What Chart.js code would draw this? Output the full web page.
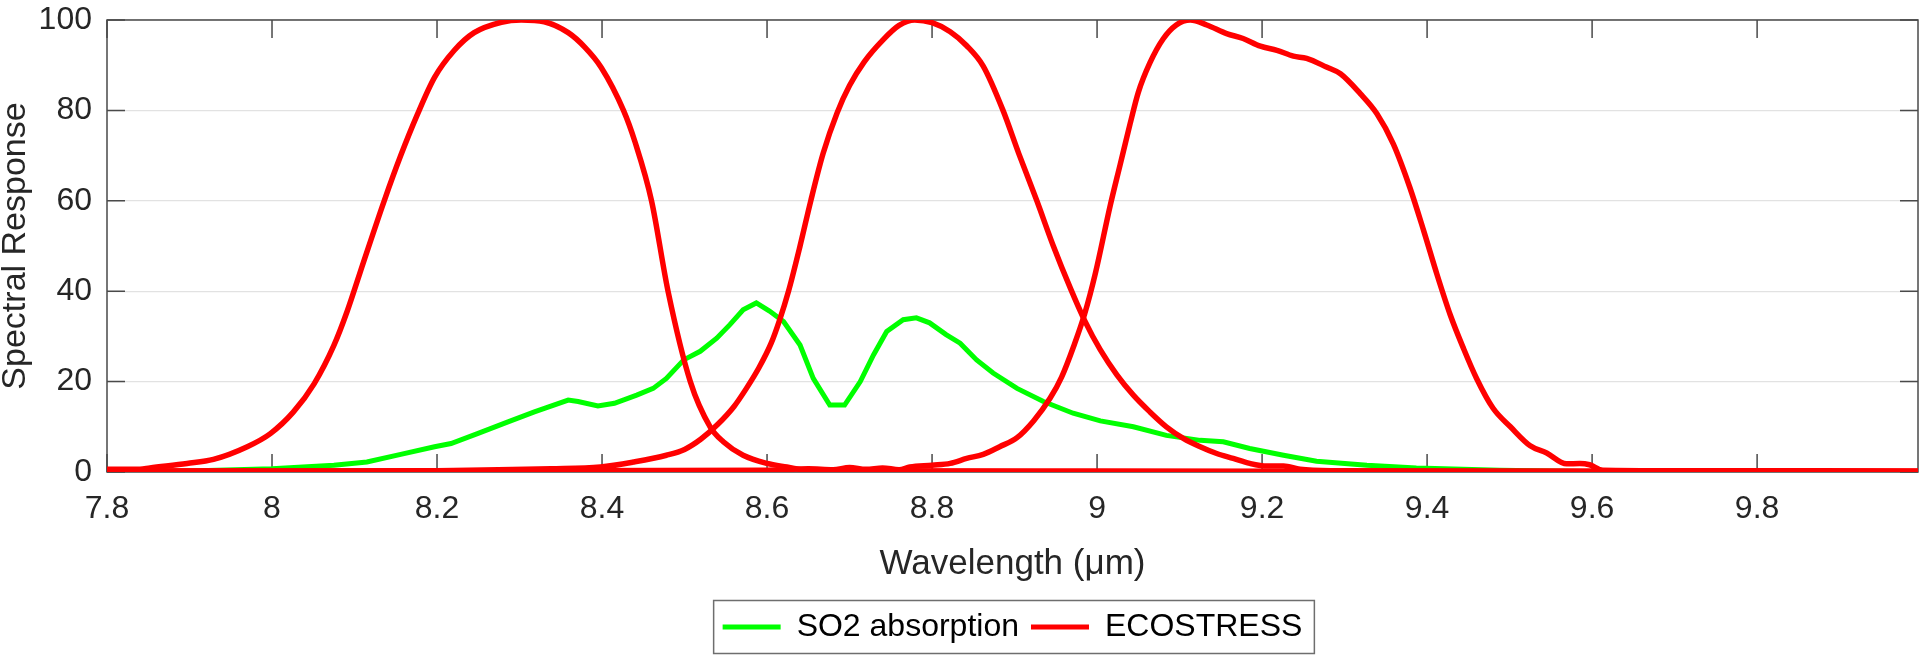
<!DOCTYPE html>
<html>
<head>
<meta charset="utf-8">
<script src="https://cdn.jsdelivr.net/npm/chart.js@4.4.1/dist/chart.umd.min.js"></script>
<style>
  html, body { margin: 0; padding: 0; background: #fff; }
</style>
</head>
<body>
<canvas id="chart" width="1920" height="656"></canvas>
<script>
// ---------------- data ----------------
const xTicks = [7.8, 8.0, 8.2, 8.4, 8.6, 8.8, 9.0, 9.2, 9.4, 9.6, 9.8];
const yTicks = [0, 20, 40, 60, 80, 100];

// SO2 absorption
const so2Wl   = [7.8, 7.9, 8.0, 8.075, 8.115, 8.156, 8.197, 8.217, 8.249, 8.286, 8.318, 8.359, 8.371, 8.395, 8.415,
                 8.442, 8.462, 8.478, 8.499, 8.519, 8.539, 8.555, 8.571, 8.587, 8.603, 8.62, 8.64, 8.656, 8.676, 8.694,
                 8.713, 8.729, 8.745, 8.765, 8.781, 8.797, 8.817, 8.834, 8.854, 8.874, 8.903, 8.935, 8.971, 9.004,
                 9.044, 9.084, 9.125, 9.153, 9.185, 9.226, 9.266, 9.327, 9.387, 9.488, 9.59, 9.8, 10.0];
const so2Resp = [0, 0.2, 0.7, 1.5, 2.2, 3.9, 5.6, 6.3, 8.5, 11.1, 13.3, 15.9, 15.6, 14.6, 15.2,
                 17, 18.5, 20.7, 24.8, 26.7, 29.6, 32.6, 35.9, 37.4, 35.6, 33.3, 28.1, 20.7, 14.8, 14.8,
                 20, 25.9, 31.1, 33.7, 34.1, 33, 30.4, 28.5, 24.8, 21.9, 18.5, 15.6, 13, 11.3,
                 10, 8.1, 7, 6.7, 5.2, 3.7, 2.4, 1.5, 0.9, 0.4, 0.1, 0, 0];

// ECOSTRESS band 1 (~8.3 um)
const band1Wl   = [7.8, 7.84, 7.852, 7.897, 7.929, 7.97, 7.998, 8.026, 8.051, 8.075, 8.091, 8.111, 8.136, 8.156,
                   8.176, 8.197, 8.221, 8.245, 8.278, 8.302, 8.33, 8.359, 8.379, 8.399, 8.426, 8.44, 8.46, 8.48,
                   8.507, 8.531, 8.547, 8.571, 8.6, 8.624, 8.648, 8.7, 9.0, 9.5, 10.0];
const band1Resp = [0.6, 0.6, 0.9, 1.9, 2.8, 5.6, 8.5, 13.3, 19.5, 28, 35.5, 46.5, 60, 70,
                   79, 87.3, 93.3, 97.2, 99.5, 100, 99.6, 97.2, 94, 89.5, 80, 73, 60, 40,
                   20, 10, 6.7, 3.7, 1.9, 1.1, 0.4, 0.3, 0.2, 0.1, 0.1];

// ECOSTRESS band 2 (~8.78 um)
const band2Wl   = [7.8, 8.0, 8.2, 8.338, 8.398, 8.438, 8.478, 8.5, 8.52, 8.54, 8.56, 8.575, 8.59, 8.605, 8.615,
                   8.626, 8.64, 8.653, 8.668, 8.685, 8.7, 8.718, 8.74, 8.76, 8.779, 8.8, 8.822, 8.842, 8.862,
                   8.886, 8.905, 8.927, 8.947, 8.968, 8.985, 9.004, 9.024, 9.044, 9.064, 9.084, 9.105, 9.125,
                   9.145, 9.165, 9.185, 9.206, 9.226, 9.246, 9.286, 9.5, 10.0];
const band2Resp = [0.2, 0.2, 0.3, 0.7, 1.1, 2.2, 3.7, 5.0, 7.3, 10.5, 14.5, 18.5, 23, 28.5, 33.5,
                   40, 50, 60, 70.5, 79.5, 85.5, 90.8, 95.5, 98.8, 100, 99.4, 97.4, 94.3, 89.8,
                   80, 70.5, 60, 50, 40.5, 33.5, 27, 21.5, 17, 13.3, 10, 7.4, 5.6,
                   4.1, 3, 1.9, 1.3, 1.3, 0.6, 0.3, 0.2, 0.1];

// ECOSTRESS band 3 (~9.12 um)
const band3Wl   = [7.8, 8.3, 8.6, 8.65, 8.68, 8.7, 8.72, 8.74, 8.76, 8.773, 8.8, 8.822, 8.842, 8.862, 8.882,
                   8.903, 8.923, 8.943, 8.957, 8.972, 8.985, 8.998, 9.016, 9.028, 9.04, 9.05, 9.064, 9.08,
                   9.096, 9.113, 9.133, 9.157, 9.177, 9.198, 9.218, 9.238, 9.254, 9.278, 9.295, 9.319, 9.339,
                   9.359, 9.379, 9.396, 9.412, 9.428, 9.444, 9.46, 9.48, 9.501, 9.525, 9.545, 9.569, 9.585,
                   9.597, 9.613, 9.7, 10.0];
const band3Resp = [0.2, 0.3, 0.4, 0.7, 0.5, 1.0, 0.6, 0.9, 0.5, 1.1, 1.5, 1.9, 3, 3.9, 5.6,
                   7.6, 11.3, 16.3, 21, 28, 35, 44, 59, 68, 77, 84, 90.5, 95.8,
                   98.9, 100, 98.9, 97, 95.9, 94.2, 93.3, 92, 91.5, 89.6, 88.1, 83.7, 79.3,
                   72.6, 63, 53.3, 43.7, 34.8, 27.4, 20.7, 14.1, 10, 5.8, 4.2, 1.8, 1.9,
                   1.6, 0.4, 0.3, 0.2];

const GREEN = '#00ff00';
const RED = '#ff0000';
const AXIS_TEXT = '#262626';

function toPoints(xs, ys) {
    return xs.map((x, i) => ({x: x, y: ys[i]}));
}

Chart.defaults.font.family = '"Liberation Sans", Arial, Helvetica, sans-serif';
Chart.defaults.color = AXIS_TEXT;

// box around the axes plus inward ticks on all four sides (matlab look)
const axesFrame = {
    id: 'axesFrame',
    beforeDatasetsDraw(chart) {
        const {ctx, chartArea: a, scales} = chart;
        const tl = 18;
        ctx.save();
        ctx.strokeStyle = '#4a4a4a';
        ctx.lineWidth = 1.5;
        ctx.strokeRect(a.left, a.top, a.right - a.left, a.bottom - a.top);
        ctx.beginPath();
        xTicks.forEach(v => {
            let px = scales.x.getPixelForValue(v);
            ctx.moveTo(px, a.bottom); ctx.lineTo(px, a.bottom - tl);
            ctx.moveTo(px, a.top); ctx.lineTo(px, a.top + tl);
        });
        yTicks.forEach(v => {
            let py = scales.y.getPixelForValue(v);
            ctx.moveTo(a.left, py); ctx.lineTo(a.left + tl, py);
            ctx.moveTo(a.right, py); ctx.lineTo(a.right - tl, py);
        });
        ctx.stroke();
        ctx.restore();
    }
};

// centre the legend under the plot area instead of the whole canvas
const legendUnderPlot = {
    id: 'legendUnderPlot',
    afterLayout(chart) {
        const lg = chart.legend;
        lg.left = chart.chartArea.left;
        lg.right = chart.chartArea.right;
        lg.width = lg.right - lg.left;
    }
};

// thin box around the legend entries
const legendFrame = {
    id: 'legendFrame',
    afterDraw(chart) {
        const boxes = chart.legend.legendHitBoxes;
        if (!boxes || !boxes.length) return;
        const left = Math.min(...boxes.map(b => b.left)) - 9;
        const right = Math.max(...boxes.map(b => b.left + b.width)) + 12;
        const mid = boxes[0].top + boxes[0].height / 2;
        const ctx = chart.ctx;
        ctx.save();
        ctx.strokeStyle = '#6e6e6e';
        ctx.lineWidth = 1.5;
        ctx.strokeRect(left, mid - 26.5, right - left, 53);
        ctx.restore();
    }
};

const redLine = {
    borderColor: RED,
    backgroundColor: RED,
    borderWidth: 5.5,
    pointRadius: 0,
    cubicInterpolationMode: 'monotone',
    order: 0
};

new Chart(document.getElementById('chart'), {
    type: 'line',
    data: {
        datasets: [
            Object.assign({label: 'ECOSTRESS', data: toPoints(band1Wl, band1Resp)}, redLine),
            Object.assign({label: 'ECOSTRESS b2', data: toPoints(band2Wl, band2Resp)}, redLine),
            Object.assign({label: 'ECOSTRESS b3', data: toPoints(band3Wl, band3Resp)}, redLine),
            {
                label: 'SO2 absorption',
                data: toPoints(so2Wl, so2Resp),
                borderColor: GREEN,
                backgroundColor: GREEN,
                borderWidth: 5,
                pointRadius: 0,
                tension: 0,
                order: 1
            }
        ]
    },
    options: {
        responsive: false,
        animation: false,
        devicePixelRatio: 1,
        layout: { padding: { top: 20, right: 2, left: 0, bottom: 3 } },
        scales: {
            x: {
                type: 'linear',
                min: 7.8,
                max: 9.995,
                afterBuildTicks: s => { s.ticks = xTicks.map(v => ({value: v})); },
                afterFit: s => { s.height = 127; s.paddingLeft = 0; s.paddingRight = 0; },
                grid: { display: false, drawTicks: false },
                border: { display: false },
                ticks: {
                    padding: 18,
                    font: { size: 32 },
                    color: AXIS_TEXT,
                    maxRotation: 0,
                    callback: v => String(Math.round(v * 10) / 10)
                },
                title: {
                    display: true,
                    text: 'Wavelength (\u03bcm)',
                    font: { size: 35 },
                    color: AXIS_TEXT,
                    padding: { top: 0, bottom: 14 }
                }
            },
            y: {
                min: 0,
                max: 100,
                afterBuildTicks: s => { s.ticks = yTicks.map(v => ({value: v})); },
                afterFit: s => { s.width = 107; s.paddingTop = 0; s.paddingBottom = 0; },
                grid: { color: '#e2e2e2', lineWidth: 1.2, drawTicks: false },
                border: { display: false },
                ticks: { padding: 15, font: { size: 32 }, color: AXIS_TEXT },
                title: {
                    display: true,
                    text: 'Spectral Response',
                    font: { size: 34, lineHeight: 0.9 },
                    color: AXIS_TEXT,
                    padding: 0
                }
            }
        },
        plugins: {
            tooltip: { enabled: false },
            legend: {
                position: 'bottom',
                labels: {
                    font: { size: 32 },
                    color: '#000',
                    boxWidth: 58,
                    boxHeight: 5,
                    padding: 12,
                    generateLabels: () => [
                        { text: 'SO2 absorption', fillStyle: GREEN, strokeStyle: GREEN, lineWidth: 0, hidden: false, datasetIndex: 3 },
                        { text: 'ECOSTRESS', fillStyle: RED, strokeStyle: RED, lineWidth: 0, hidden: false, datasetIndex: 0 }
                    ]
                }
            }
        }
    },
    plugins: [legendUnderPlot, axesFrame, legendFrame]
});
</script>
</body>
</html>
